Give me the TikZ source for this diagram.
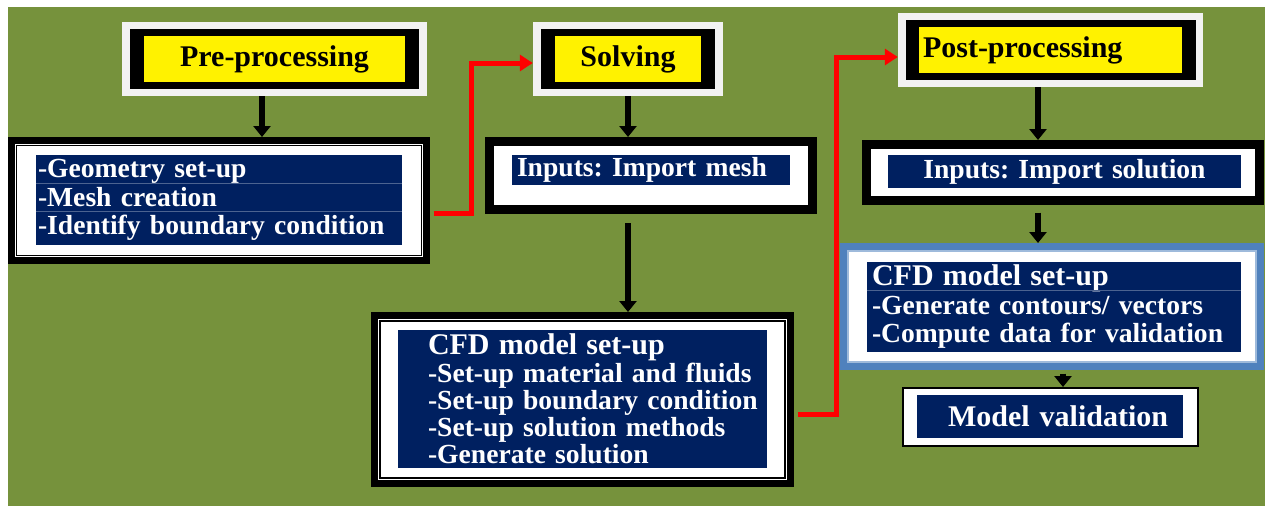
\documentclass[tikz,border=0pt]{standalone}
\usepackage{fontspec}
\setmainfont{Liberation Serif}
\usetikzlibrary{arrows.meta,calc}

\definecolor{bggreen}{HTML}{76923C}
\definecolor{navy}{HTML}{002060}
\definecolor{frameblue}{HTML}{4F81BD}
\definecolor{headgray}{HTML}{F2F2F2}

\newcommand\headerfont{\fontsize{30}{34}\selectfont\bfseries\frenchspacing}
\newcommand\listfont{\fontsize{27.6}{28.5}\selectfont\bfseries\frenchspacing}

\begin{document}
\begin{tikzpicture}
  [x=1pt,y=-1pt,
   halo/.style={rectangle,fill=headgray,inner sep=0pt},
   band/.style={rectangle,fill=black,inner sep=0pt},
   headbox/.style={rectangle,fill=yellow,inner sep=0pt,font=\headerfont},
   boxframe/.style={rectangle,draw=black,line width=7pt,fill=white,inner sep=0pt},
   panel/.style={rectangle,fill=navy,text=white,inner sep=0pt,
                  font=\listfont,align=left},
   leftpad/.style={execute at begin node={\leftskip=#1\relax}},
   rowline/.style={navy!70!white,line width=0.8pt},
   flow/.style={-{Triangle[length=11pt,width=17pt]},line width=6pt},
   link/.style={-{Triangle[length=13pt,width=16pt]},red,line width=5pt}]
  \useasboundingbox (0,0) rectangle (1265,506);
  \fill[bggreen] (8,7) rectangle (1265,506);

  % stage headers
  \node[halo,minimum width=305pt,minimum height=74pt]     (pre head)    at (274.5,59) {};
  \node[band,minimum width=289pt,minimum height=60pt]                   at (pre head) {};
  \node[headbox,minimum width=261pt,minimum height=46pt]  (pre title)   at (pre head) {Pre-processing};

  \node[halo,minimum width=190pt,minimum height=74pt]     (solve head)  at (628,59) {};
  \node[band,minimum width=174pt,minimum height=60pt]                   at (solve head) {};
  \node[headbox,minimum width=146pt,minimum height=46pt]  (solve title) at (solve head) {Solving};

  \node[halo,minimum width=305pt,minimum height=74pt]     (post head)   at (1050.5,50) {};
  \node[band,minimum width=290pt,minimum height=60pt]                   at (post head) {};
  \node[headbox,text width=263pt,minimum height=46pt,align=left,leftpad=4pt]
                                                          (post title)  at (post head) {Post-processing};

  % pre-processing
  \node[boxframe,minimum width=415pt,minimum height=120pt] (pre list)  at (219,200.5) {};
  \node[panel,text width=366pt,minimum height=90pt,leftpad=2pt]
                                                           (pre items) at (219,200)
    {-Geometry set-up\\-Mesh creation\\-Identify boundary condition};
  \draw[rowline] ([yshift=-29pt]pre items.north west) -- ([yshift=-29pt]pre items.north east);
  \draw[rowline] ([yshift=-57pt]pre items.north west) -- ([yshift=-57pt]pre items.north east);

  % solving
  \node[boxframe,minimum width=325pt,minimum height=70pt]  (solve input) at (651,175.5) {};
  \node[panel,text width=278pt,minimum height=30pt,leftpad=5pt]
                                                           (mesh items)  at (651,170) {Inputs: Import mesh};
  \node[boxframe,minimum width=416pt,minimum height=168pt] (solve model) at (582.5,399.5) {};
  \node[panel,text width=369pt,minimum height=138pt,leftpad=30pt,
        font=\fontsize{27.6}{27.2}\selectfont\bfseries]    (model items) at (582.5,399)
    {{\headerfont CFD model set-up}\\-Set-up material and fluids\\-Set-up boundary condition\\
     -Set-up solution methods\\-Generate solution};

  % post-processing
  \node[boxframe,minimum width=395pt,minimum height=58pt]  (post input)  at (1063,172.5) {};
  \node[panel,text width=353pt,minimum height=33pt,align=center]
                                                           (sol items)   at (1064.5,171.5) {Inputs: Import solution};
  \node[boxframe,draw=frameblue,minimum width=417pt,minimum height=120pt]
                                                           (post model)  at (1052,306.5) {};
  \node[panel,text width=374pt,minimum height=90pt,leftpad=5pt]
                                                           (post items)  at (1054,307)
    {{\headerfont CFD model set-up}\\-Generate contours/ vectors\\-Compute data for validation};
  \draw[rowline] ([yshift=-29pt]post items.north west) -- ([yshift=-29pt]post items.north east);
  \node[boxframe,line width=2pt,minimum width=295pt,minimum height=58pt]
                                                           (valid)       at (1050.5,417) {};
  \node[panel,text width=266pt,minimum height=43pt,leftpad=31pt,font=\headerfont]
                                                           (valid items) at (1050,416.5) {Model validation};

  % inner lines of the framed boxes
  \foreach \n/\d in {pre list/8.5,solve input/8,solve model/9,post input/8}
    \draw[line width=1.4pt] ([shift={(\d,\d)}]\n.north west) rectangle ([shift={(-\d,-\d)}]\n.south east);
  \draw[frameblue!55,line width=1.4pt] ([shift={(8,8)}]post model.north west)
    rectangle ([shift={(-8,-8)}]post model.south east);

  % arrows
  \draw[flow] ([xshift=-12.5pt]pre head.south) -- ([xshift=-12.5pt]pre head.south |- pre list.north);
  \draw[flow] (solve head.south) -- (solve head.south |- solve input.north);
  \draw[flow,shorten <=9pt] (solve head |- solve input.south) -- (solve head |- solve model.north);
  \draw[flow] ([xshift=-12.5pt]post head.south) -- ([xshift=-12.5pt]post head.south |- post input.north);
  \draw[flow,shorten <=7.5pt] ([xshift=-12.5pt]post head.south |- post input.south)
    -- ([xshift=-12.5pt]post head.south |- post model.north);
  \draw[flow,shorten <=3.5pt] ([xshift=11pt]post model.south) -- ([xshift=11pt]post model.south |- valid.north);

  \draw[link,shorten <=3.5pt] ([yshift=-12.5pt]pre list.east) -- ++(41.5,0) |- ([yshift=-4pt]solve head.west);
  \draw[link,shorten <=3.5pt] ([yshift=-14.5pt]solve model.east) -- ++(42.5,0) |- ([yshift=-7pt]post head.west);
\end{tikzpicture}
\end{document}
